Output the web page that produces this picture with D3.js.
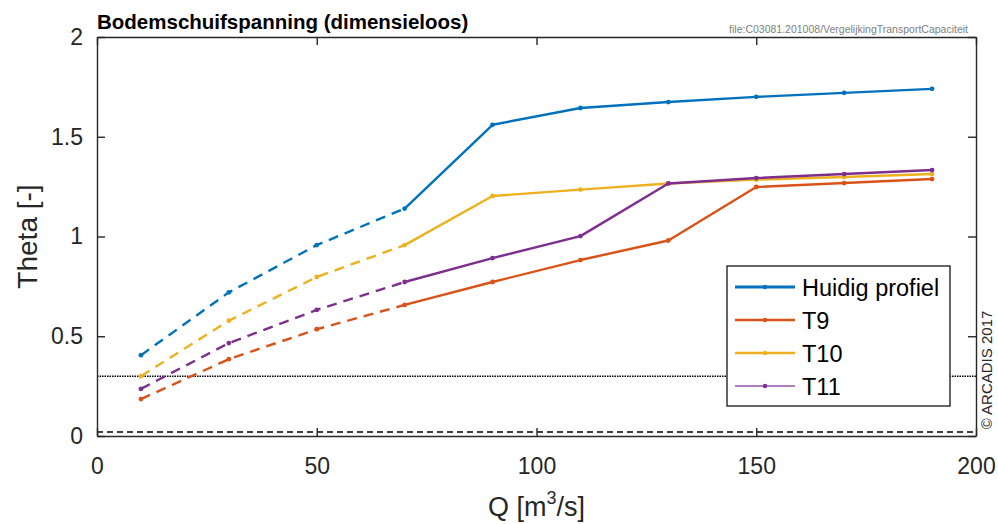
<!DOCTYPE html>
<html>
<head>
<meta charset="utf-8">
<script src="https://d3js.org/d3.v7.min.js"></script>
<style>
body { margin: 0; background: white; }
text { font-family: 'Liberation Sans', Arial, sans-serif; }
</style>
</head>
<body>
<svg width="998" height="524"></svg>
<script>
// discharge values (m3/s)
const Q = [10, 30, 50, 70, 90, 110, 130, 150, 170, 190];
// first 4 points drawn dashed, rest solid
const dashUntil = 70;

const huidig = [0.405, 0.72, 0.957, 1.14, 1.56, 1.644, 1.674, 1.70, 1.72, 1.74];
const t9     = [0.185, 0.385, 0.535, 0.657, 0.772, 0.882, 0.98, 1.248, 1.268, 1.288];
const t10    = [0.30, 0.578, 0.797, 0.957, 1.203, 1.235, 1.266, 1.285, 1.298, 1.313];
const t11    = [0.236, 0.466, 0.632, 0.772, 0.892, 1.002, 1.266, 1.293, 1.313, 1.333];

const seriesNames = ["Huidig profiel", "T9", "T10", "T11"];
const seriesColors = ["#0072BD", "#D95319", "#EDB120", "#7E2F8E"];
const xTicks = [0, 50, 100, 150, 200];
const yTicks = [0, 0.5, 1, 1.5, 2];
const refLevels = [0.3, 0.02];   // dotted, dashed

const series = [huidig, t9, t10, t11].map((vals, i) => ({
  name: seriesNames[i],
  color: seriesColors[i],
  pts: Q.map((q, j) => ({ q: q, v: vals[j] }))
}));

const svg = d3.select("svg");
const pLeft = 97, pRight = 976, pTop = 37, pBottom = 436;

const x = d3.scaleLinear().domain([0, 200]).range([pLeft, pRight]);
const y = d3.scaleLinear().domain([0, 2]).range([pBottom, pTop]);

// reference lines
svg.append("line")
  .attr("x1", pLeft).attr("x2", pRight)
  .attr("y1", y(refLevels[0])).attr("y2", y(refLevels[0]))
  .attr("stroke", "#000").attr("stroke-width", 1.5)
  .attr("stroke-dasharray", "1.5,1");
svg.append("line")
  .attr("x1", pLeft).attr("x2", pRight)
  .attr("y1", y(refLevels[1])).attr("y2", y(refLevels[1]))
  .attr("stroke", "#000").attr("stroke-width", 1.5)
  .attr("stroke-dasharray", "6,4");

const line = d3.line().x(d => x(d.q)).y(d => y(d.v));

const g = svg.append("g");
series.forEach(s => {
  const dashed = s.pts.filter(d => d.q <= dashUntil);
  const solid = s.pts.filter(d => d.q >= dashUntil);
  g.append("path").attr("d", line(dashed))
    .attr("fill", "none").attr("stroke", s.color)
    .attr("stroke-width", 2.4).attr("stroke-dasharray", "10,7");
  g.append("path").attr("d", line(solid))
    .attr("fill", "none").attr("stroke", s.color)
    .attr("stroke-width", 2.4).attr("stroke-linejoin", "round");
  g.selectAll(null).data(s.pts).enter().append("circle")
    .attr("cx", d => x(d.q)).attr("cy", d => y(d.v))
    .attr("r", 2.4).attr("fill", s.color);
});

// axes box with inward ticks on all sides
const axisColor = "#262626";
svg.append("g").attr("transform", `translate(0,${pBottom})`)
  .call(d3.axisBottom(x).tickValues(xTicks).tickSizeInner(-8).tickSizeOuter(0).tickPadding(22).tickFormat(d3.format("d")));
svg.append("g").attr("transform", `translate(0,${pTop})`)
  .call(d3.axisTop(x).tickValues(xTicks).tickSizeInner(-8).tickSizeOuter(0).tickFormat(""));
svg.append("g").attr("transform", `translate(${pLeft},0)`)
  .call(d3.axisLeft(y).tickValues(yTicks).tickSizeInner(-8).tickSizeOuter(0).tickPadding(14).tickFormat(d => d3.format("")(d)));
svg.append("g").attr("transform", `translate(${pRight},0)`)
  .call(d3.axisRight(y).tickValues(yTicks).tickSizeInner(-8).tickSizeOuter(0).tickFormat(""));

svg.selectAll(".domain").attr("stroke", axisColor).attr("stroke-width", 1.4);
svg.selectAll(".tick line").attr("stroke", axisColor).attr("stroke-width", 1.4);
svg.selectAll(".tick text").attr("fill", axisColor)
  .style("font-size", "23px");

// axis titles
svg.append("text")
  .attr("transform", `translate(37,${(pTop + pBottom) / 2}) rotate(-90)`)
  .attr("text-anchor", "middle")
  .attr("fill", axisColor)
  .style("font-size", "28px")
  .text("Theta [-]");

const xl = svg.append("text")
  .attr("x", (pLeft + pRight) / 2).attr("y", 516)
  .attr("text-anchor", "middle")
  .attr("fill", axisColor)
  .style("font-size", "27px");
xl.append("tspan").text("Q [m");
xl.append("tspan").attr("dy", -12).style("font-size", "18px").text("3");
xl.append("tspan").attr("dy", 12).text("/s]");

// title and file label
svg.append("text")
  .attr("x", pLeft).attr("y", 29)
  .style("font-size", "20.5px").style("font-weight", "bold")
  .attr("fill", "#000")
  .text("Bodemschuifspanning (dimensieloos)");

svg.append("text")
  .attr("x", 968).attr("y", 33)
  .attr("text-anchor", "end")
  .attr("fill", "#808080")
  .style("font-size", "10.5px")
  .text("file:C03081.201008/VergelijkingTransportCapaciteit");

svg.append("text")
  .attr("transform", "translate(992,370) rotate(-90)")
  .attr("text-anchor", "middle")
  .attr("fill", "#262626")
  .style("font-size", "15px")
  .text("\u00A9 ARCADIS 2017");

// legend
const lg = svg.append("g");
lg.append("rect")
  .attr("x", 727).attr("y", 266).attr("width", 223).attr("height", 140)
  .attr("fill", "white").attr("stroke", axisColor).attr("stroke-width", 1.4);
const legendWidths = [3.2, 2.6, 2.6, 2];
const legendColors = ["#0072BD", "#D95319", "#EDB120", "#B07CC0"];
series.forEach((s, i) => {
  const yy = 287 + i * 33;
  lg.append("line")
    .attr("x1", 735).attr("x2", 795).attr("y1", yy).attr("y2", yy)
    .attr("stroke", legendColors[i]).attr("stroke-width", legendWidths[i]);
  lg.append("circle").attr("cx", 765).attr("cy", yy).attr("r", 2.2).attr("fill", s.color);
  lg.append("text")
    .attr("x", 802).attr("y", yy + 9)
    .attr("fill", "#000")
    .style("font-size", "23.5px")
    .text(s.name);
});
</script>
</body>
</html>
